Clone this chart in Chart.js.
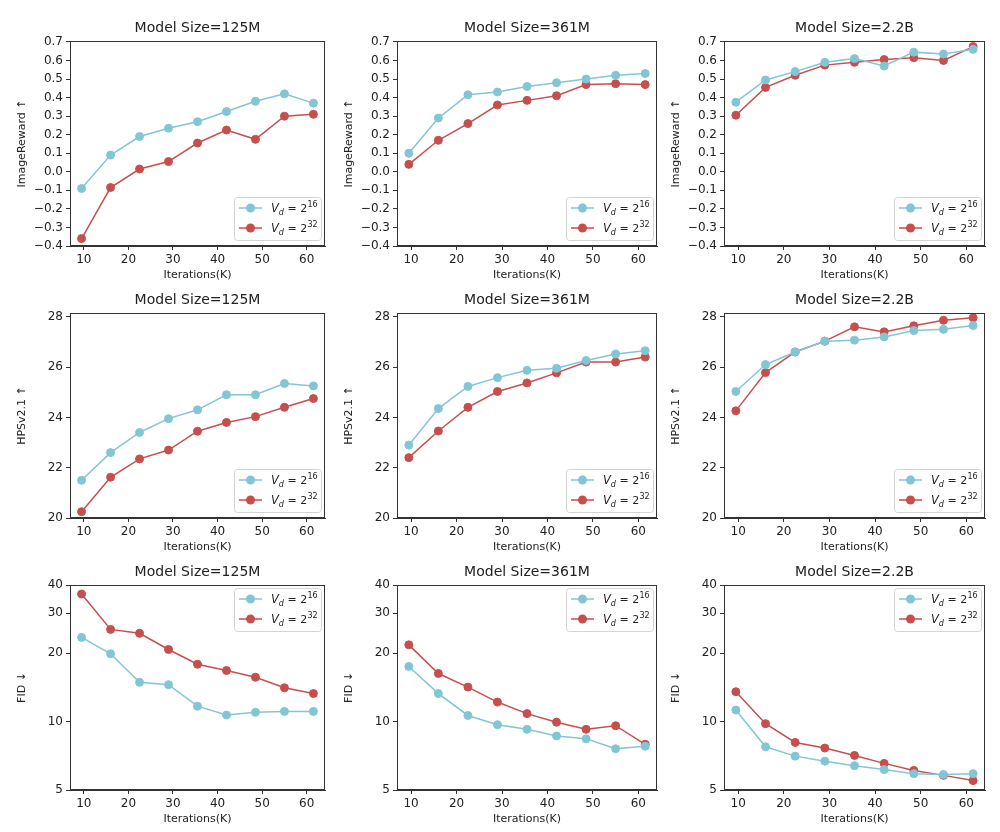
<!DOCTYPE html>
<html><head><meta charset="utf-8">
<script src="https://cdn.jsdelivr.net/npm/chart.js@4.4.1/dist/chart.umd.min.js"></script>
<style>
html,body{margin:0;padding:0;background:#fff;}
body{width:1000px;height:832px;position:relative;overflow:hidden;}
.panel{position:absolute;}
</style></head>
<body>
<script>
// ---------- data ----------
const iterations = [9.5, 16, 22.5, 29, 35.5, 42, 48.5, 55, 61.5];
const xTicks = [10, 20, 30, 40, 50, 60];
const modelSizes = ['125M', '361M', '2.2B'];
const vocabExponents = ['16', '32'];

const imageRewardTicks = [-0.4, -0.3, -0.2, -0.1, 0.0, 0.1, 0.2, 0.3, 0.4, 0.5, 0.6, 0.7];
const hpsTicks = [20, 22, 24, 26, 28];
const fidTicks = [5, 10, 20, 30, 40];

const ir125M_v16 = [-0.09, 0.09, 0.19, 0.235, 0.27, 0.325, 0.38, 0.42, 0.37];
const ir125M_v32 = [-0.36, -0.085, 0.015, 0.055, 0.155, 0.225, 0.175, 0.30, 0.31];
const ir361M_v16 = [0.10, 0.29, 0.415, 0.43, 0.46, 0.48, 0.50, 0.52, 0.53];
const ir361M_v32 = [0.04, 0.17, 0.26, 0.36, 0.385, 0.41, 0.47, 0.475, 0.47];
const ir22B_v16 = [0.375, 0.495, 0.54, 0.59, 0.61, 0.57, 0.645, 0.635, 0.66];
const ir22B_v32 = [0.305, 0.455, 0.52, 0.575, 0.59, 0.605, 0.615, 0.60, 0.675];

const hps125M_v16 = [21.5, 22.6, 23.4, 23.95, 24.3, 24.9, 24.9, 25.35, 25.25];
const hps125M_v32 = [20.25, 21.62, 22.35, 22.7, 23.45, 23.8, 24.03, 24.4, 24.75];
const hps361M_v16 = [22.9, 24.35, 25.23, 25.58, 25.87, 25.95, 26.26, 26.52, 26.65];
const hps361M_v32 = [22.4, 23.46, 24.4, 25.03, 25.37, 25.77, 26.2, 26.2, 26.4];
const hps22B_v16 = [25.03, 26.1, 26.6, 27.03, 27.07, 27.2, 27.45, 27.5, 27.65];
const hps22B_v32 = [24.26, 25.78, 26.6, 27.03, 27.6, 27.4, 27.64, 27.86, 27.96];

const fid125M_v16 = [23.5, 19.9, 14.9, 14.55, 11.7, 10.7, 11.0, 11.1, 11.1];
const fid125M_v32 = [36.5, 25.5, 24.5, 20.8, 17.9, 16.8, 15.7, 14.1, 13.3];
const fid361M_v16 = [17.5, 13.3, 10.65, 9.7, 9.25, 8.65, 8.4, 7.6, 7.8];
const fid361M_v32 = [21.8, 16.3, 14.2, 12.2, 10.85, 9.95, 9.25, 9.6, 7.95];
const fid22B_v16 = [11.25, 7.75, 7.05, 6.7, 6.4, 6.15, 5.9, 5.85, 5.9];
const fid22B_v32 = [13.55, 9.8, 8.1, 7.65, 7.1, 6.55, 6.1, 5.8, 5.5];

// ---------- style / layout ----------
const FONT = 'DejaVu Sans';
const TEXT = '#222';
const AXIS = '#333';
const BLUE = '#82c6d5';
const RED = '#c64f4e';
const colLeft = [70, 397, 724], colRight = [325, 657, 985];
const rowTop = [41, 313, 585], rowBottom = [246, 518, 790];
const Y_W = 62, X_H = 40, TITLE_H = 36, PAD_R = 6;

const rows = [
  { label: 'ImageReward \u2191', type: 'linear', min: -0.4, max: 0.705, ticks: imageRewardTicks,
    fmt: v => v.toFixed(1).replace('-', '\u2212'), legend: 'lower',
    series: [[ir125M_v16, ir125M_v32], [ir361M_v16, ir361M_v32], [ir22B_v16, ir22B_v32]] },
  { label: 'HPSv2.1 \u2191', type: 'linear', min: 20, max: 28.15, ticks: hpsTicks,
    fmt: v => String(v), legend: 'lower',
    series: [[hps125M_v16, hps125M_v32], [hps361M_v16, hps361M_v32], [hps22B_v16, hps22B_v32]] },
  { label: 'FID \u2193', type: 'logarithmic', min: 5, max: 40, ticks: fidTicks,
    fmt: v => String(v), legend: 'upper',
    series: [[fid125M_v16, fid125M_v32], [fid361M_v16, fid361M_v32], [fid22B_v16, fid22B_v32]] }
];

function drawMathLabel(ctx, x, yc, exp, color) {
  const base = yc + 4;
  ctx.fillStyle = color;
  ctx.textAlign = 'left';
  ctx.textBaseline = 'alphabetic';
  ctx.font = 'italic 11.5px "' + FONT + '"';
  ctx.fillText('V', x, base); x += ctx.measureText('V').width;
  ctx.font = 'italic 8px "' + FONT + '"';
  ctx.fillText('d', x, base + 2.5); x += ctx.measureText('d').width;
  ctx.font = '11px "' + FONT + '"';
  ctx.fillText(' = 2', x, base); x += ctx.measureText(' = 2').width;
  ctx.font = '8px "' + FONT + '"';
  ctx.fillText(exp, x + 0.3, base - 5);
}

const framePlugin = {
  id: 'frame',
  afterDraw(chart) {
    const { ctx, chartArea: a } = chart;
    ctx.save();
    ctx.strokeStyle = AXIS;
    ctx.lineWidth = 1;
    ctx.strokeRect(Math.round(a.left) + 0.5, Math.round(a.top) + 0.5,
      Math.round(a.right - a.left) - 1, Math.round(a.bottom - a.top) - 1);
    ctx.restore();
  }
};

const legendPlugin = {
  id: 'mathLegend',
  afterDraw(chart, args, opts) {
    const { ctx, chartArea: a } = chart;
    const w = 87, h = 43;
    const x0 = a.right - 4 - w;
    const y0 = opts.where === 'upper' ? a.top + 3 : a.bottom - 6 - h;
    ctx.save();
    ctx.beginPath();
    if (ctx.roundRect) ctx.roundRect(x0 + 0.5, y0 + 0.5, w, h, 3); else ctx.rect(x0 + 0.5, y0 + 0.5, w, h);
    ctx.fillStyle = 'rgba(255,255,255,0.85)';
    ctx.fill();
    ctx.strokeStyle = '#d4d4d4';
    ctx.lineWidth = 1;
    ctx.stroke();
    chart.data.datasets.forEach((ds, i) => {
      const yc = y0 + 11 + i * 20;
      ctx.strokeStyle = ds.borderColor;
      ctx.lineWidth = 1.5;
      ctx.beginPath(); ctx.moveTo(x0 + 5, yc); ctx.lineTo(x0 + 28, yc); ctx.stroke();
      ctx.fillStyle = ds.borderColor;
      ctx.beginPath(); ctx.arc(x0 + 16.5, yc, 4.5, 0, Math.PI * 2); ctx.fill();
      drawMathLabel(ctx, x0 + 37, yc, vocabExponents[i], TEXT);
    });
    ctx.restore();
  }
};

function makePanel(r, c) {
  const row = rows[r];
  const L = colLeft[c], R = colRight[c], T = rowTop[r], B = rowBottom[r];
  const div = document.createElement('div');
  div.className = 'panel';
  const W = (R - L) + Y_W + PAD_R, H = (B - T) + TITLE_H + X_H;
  div.style.left = (L - Y_W) + 'px';
  div.style.top = (T - TITLE_H) + 'px';
  div.style.width = W + 'px';
  div.style.height = H + 'px';
  const cv = document.createElement('canvas');
  cv.width = W; cv.height = H;
  cv.style.width = W + 'px'; cv.style.height = H + 'px';
  div.appendChild(cv);
  document.body.appendChild(div);

  const colors = [BLUE, RED];
  const datasets = row.series[c].map((vals, i) => ({
    label: 'V_d = 2^' + vocabExponents[i],
    data: iterations.map((x, k) => ({ x: x, y: vals[k] })),
    borderColor: colors[i],
    backgroundColor: colors[i],
    pointBackgroundColor: colors[i],
    pointBorderColor: colors[i],
    pointRadius: 4,
    pointBorderWidth: 1,
    borderWidth: 1.5,
    tension: 0,
    clip: false
  }));

  const tickFont = { family: FONT, size: 12 };
  const gridOpts = { display: true, drawOnChartArea: false, drawTicks: true, tickLength: 4, color: AXIS, lineWidth: 1 };

  new Chart(cv, {
    type: 'line',
    data: { datasets },
    plugins: [framePlugin, legendPlugin],
    options: {
      responsive: false,
      animation: false,
      devicePixelRatio: 1,
      layout: { padding: { left: 0, right: PAD_R, top: 0, bottom: 0 } },
      plugins: {
        legend: { display: false },
        tooltip: { enabled: false },
        title: {
          display: true, text: 'Model Size=' + modelSizes[c], fullSize: false,
          color: TEXT, font: { family: FONT, size: 14, weight: 'normal', lineHeight: 1 },
          padding: { top: 16, bottom: 6 }
        },
        mathLegend: { where: row.legend }
      },
      scales: {
        x: {
          type: 'linear', position: 'bottom', min: 6.9, max: 64.1,
          afterBuildTicks: s => { s.ticks = xTicks.map(v => ({ value: v })); },
          afterFit: s => { s.height = X_H; },
          ticks: { font: tickFont, color: TEXT, padding: 3, maxRotation: 0, autoSkip: false, callback: v => String(v) },
          grid: gridOpts,
          border: { display: true, color: AXIS, width: 1 },
          title: { display: true, text: 'Iterations(K)', color: TEXT, font: { family: FONT, size: 11, lineHeight: 1.2 }, padding: { top: 0, bottom: 4 } }
        },
        y: {
          type: row.type, position: 'left', min: row.min, max: row.max,
          afterBuildTicks: s => { s.ticks = row.ticks.map(v => ({ value: v })); },
          afterFit: s => { s.width = Y_W; },
          ticks: { font: tickFont, color: TEXT, padding: 3, autoSkip: false, callback: v => row.fmt(v) },
          grid: gridOpts,
          border: { display: true, color: AXIS, width: 1 },
          title: { display: true, text: row.label, color: TEXT, font: { family: FONT, size: 11, lineHeight: 1.2 }, padding: { top: 8, bottom: 0 } }
        }
      }
    }
  });
}

for (let r = 0; r < 3; r++) for (let c = 0; c < 3; c++) makePanel(r, c);
</script>
</body></html>
